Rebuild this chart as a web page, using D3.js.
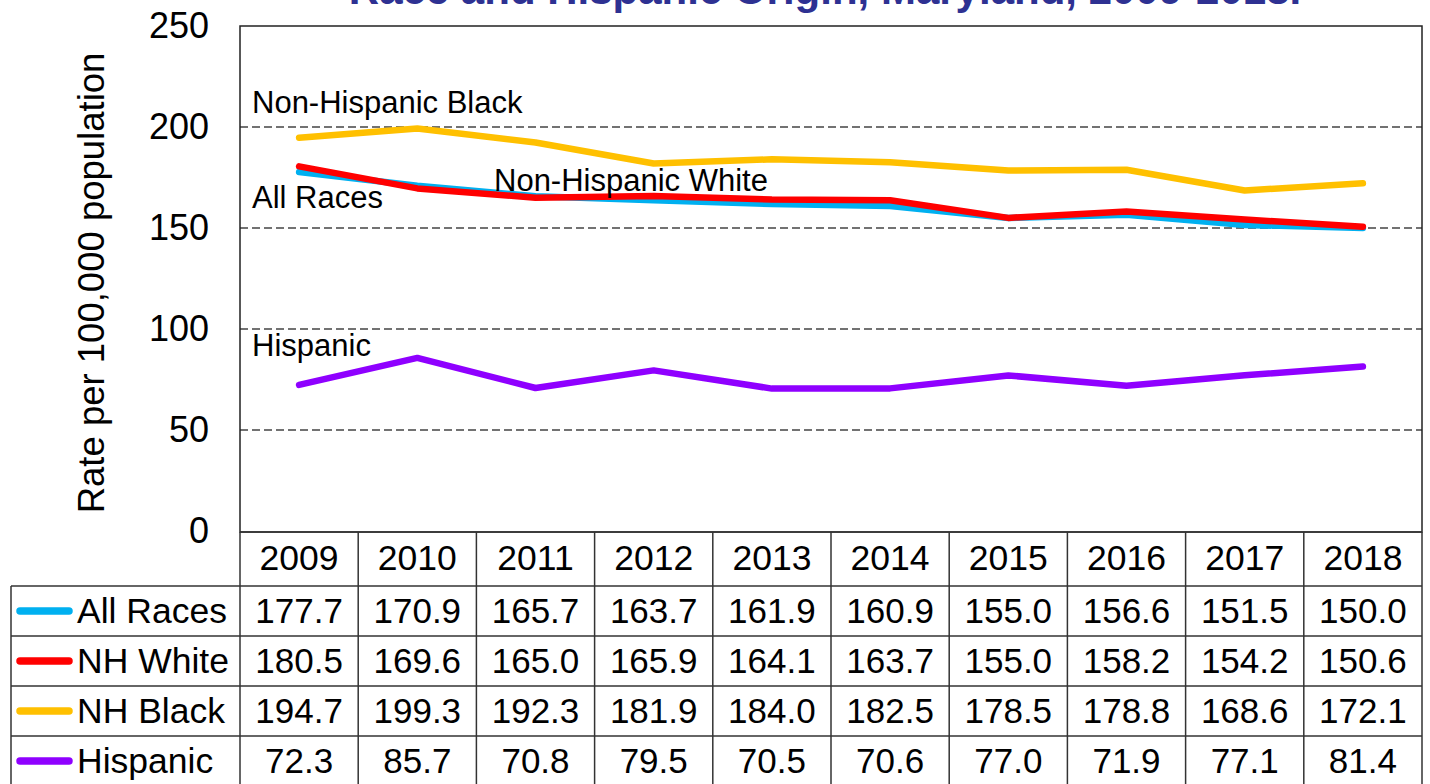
<!DOCTYPE html>
<html>
<head>
<meta charset="utf-8">
<style>
  body { margin: 0; background: #fff; }
  text { font-family: Arial, "Liberation Sans", sans-serif; }
</style>
</head>
<body>
<svg id="canvas" width="1430" height="784"></svg>
<script src="https://d3js.org/d3.v7.min.js"></script>
<script>
var years = ['2009', '2010', '2011', '2012', '2013', '2014', '2015', '2016', '2017', '2018'];
var allRaces = [177.7, 170.9, 165.7, 163.7, 161.9, 160.9, 155.0, 156.6, 151.5, 150.0];
var nhWhite  = [180.5, 169.6, 165.0, 165.9, 164.1, 163.7, 155.0, 158.2, 154.2, 150.6];
var nhBlack  = [194.7, 199.3, 192.3, 181.9, 184.0, 182.5, 178.5, 178.8, 168.6, 172.1];
var hispanic = [72.3, 85.7, 70.8, 79.5, 70.5, 70.6, 77.0, 71.9, 77.1, 81.4];
var yTicks = [0, 50, 100, 150, 200, 250];
var gridTicks = [50, 100, 150, 200];

var series = [
  {name: 'All Races', values: allRaces, color: '#00b0f0'},
  {name: 'NH White', values: nhWhite, color: '#ff0000'},
  {name: 'NH Black', values: nhBlack, color: '#ffc000'},
  {name: 'Hispanic', values: hispanic, color: '#8f00ff'}
];

var plotL = 240, plotR = 1422, plotT = 26, plotB = 532;
var svg = d3.select('#canvas');

var x = d3.scaleBand().domain(years).range([plotL, plotR]);
var y = d3.scaleLinear().domain([0, 250]).range([plotB - 1, plotT]);

// title (cut off at top in original)
svg.append('text')
  .attr('x', 825).attr('y', 4)
  .attr('text-anchor', 'middle')
  .attr('font-size', 42).attr('font-weight', 'bold')
  .attr('fill', '#2e3192')
  .text('Race and Hispanic Origin, Maryland, 2009-2018.');

// grid lines
svg.selectAll('.grid').data(gridTicks).enter().append('line')
  .attr('x1', plotL).attr('x2', plotR)
  .attr('y1', function(d) { return y(d); })
  .attr('y2', function(d) { return y(d); })
  .attr('stroke', '#444').attr('stroke-width', 1.5)
  .attr('stroke-dasharray', '8,4');

// y tick labels
svg.selectAll('.ytick').data(yTicks).enter().append('text')
  .attr('x', 209)
  .attr('y', function(d) { return y(d) + 12; })
  .attr('text-anchor', 'end')
  .attr('font-size', 36)
  .text(function(d) { return d; });

svg.append('text')
  .attr('transform', 'translate(104,283) rotate(-90)')
  .attr('text-anchor', 'middle')
  .attr('font-size', 36.5)
  .text('Rate per 100,000 population');

// lines
var line = d3.line()
  .x(function(d, i) { return x(years[i]) + x.bandwidth() / 2; })
  .y(function(d) { return y(d); });

svg.selectAll('.series').data(series).enter().append('path')
  .attr('d', function(d) { return line(d.values); })
  .attr('fill', 'none')
  .attr('stroke', function(d) { return d.color; })
  .attr('stroke-width', 6.5)
  .attr('stroke-linecap', 'round')
  .attr('stroke-linejoin', 'round');

// line labels
var labels = [
  {text: 'Non-Hispanic Black', x: 252, y: 113},
  {text: 'All Races', x: 252, y: 208},
  {text: 'Non-Hispanic White', x: 494, y: 191},
  {text: 'Hispanic', x: 252, y: 356}
];
svg.selectAll('.lbl').data(labels).enter().append('text')
  .attr('x', function(d) { return d.x; })
  .attr('y', function(d) { return d.y; })
  .attr('font-size', 31)
  .text(function(d) { return d.text; });

// plot frame
svg.append('rect')
  .attr('x', plotL).attr('y', plotT)
  .attr('width', plotR - plotL).attr('height', plotB - plotT)
  .attr('fill', 'none').attr('stroke', '#222').attr('stroke-width', 1.5);

// data table
var headH = 54, rowH = 50, tableLeft = 11;
var tbl = svg.append('g');
var tStroke = '#333';

// header row
tbl.selectAll('.yr').data(years).enter().append('text')
  .attr('x', function(d) { return x(d) + x.bandwidth() / 2; })
  .attr('y', plotB + 38)
  .attr('text-anchor', 'middle')
  .attr('font-size', 35.5)
  .text(function(d) { return d; });

var rowTop = function(i) { return plotB + headH + i * rowH; };

// horizontal lines
var hLines = [rowTop(0), rowTop(1), rowTop(2), rowTop(3), rowTop(4)];
tbl.selectAll('.hl').data(hLines).enter().append('line')
  .attr('x1', tableLeft).attr('x2', plotR)
  .attr('y1', function(d) { return d; }).attr('y2', function(d) { return d; })
  .attr('stroke', tStroke).attr('stroke-width', 1.5);
tbl.append('line')
  .attr('x1', plotL).attr('x2', plotR).attr('y1', plotB).attr('y2', plotB)
  .attr('stroke', tStroke).attr('stroke-width', 1.5);

// vertical lines
var vx = years.map(function(d) { return x(d); }).concat([plotR]);
tbl.selectAll('.vl').data(vx).enter().append('line')
  .attr('x1', function(d) { return d; }).attr('x2', function(d) { return d; })
  .attr('y1', plotB).attr('y2', 784)
  .attr('stroke', tStroke).attr('stroke-width', 1.5);
tbl.append('line')
  .attr('x1', tableLeft).attr('x2', tableLeft)
  .attr('y1', rowTop(0)).attr('y2', 784)
  .attr('stroke', tStroke).attr('stroke-width', 1.5);

// rows
var rows = tbl.selectAll('.row').data(series).enter().append('g')
  .attr('transform', function(d, i) { return 'translate(0,' + rowTop(i) + ')'; });

rows.append('line')
  .attr('x1', 20).attr('x2', 69)
  .attr('y1', rowH / 2).attr('y2', rowH / 2)
  .attr('stroke', function(d) { return d.color; })
  .attr('stroke-width', 7.5)
  .attr('stroke-linecap', 'round');

rows.append('text')
  .attr('x', 77).attr('y', 37)
  .attr('font-size', 35.5)
  .text(function(d) { return d.name; });

rows.selectAll('.val').data(function(d) { return d.values; }).enter().append('text')
  .attr('x', function(d, i) { return x(years[i]) + x.bandwidth() / 2; })
  .attr('y', 37)
  .attr('text-anchor', 'middle')
  .attr('font-size', 35)
  .text(function(d) { return d.toFixed(1); });
</script>
</body>
</html>
